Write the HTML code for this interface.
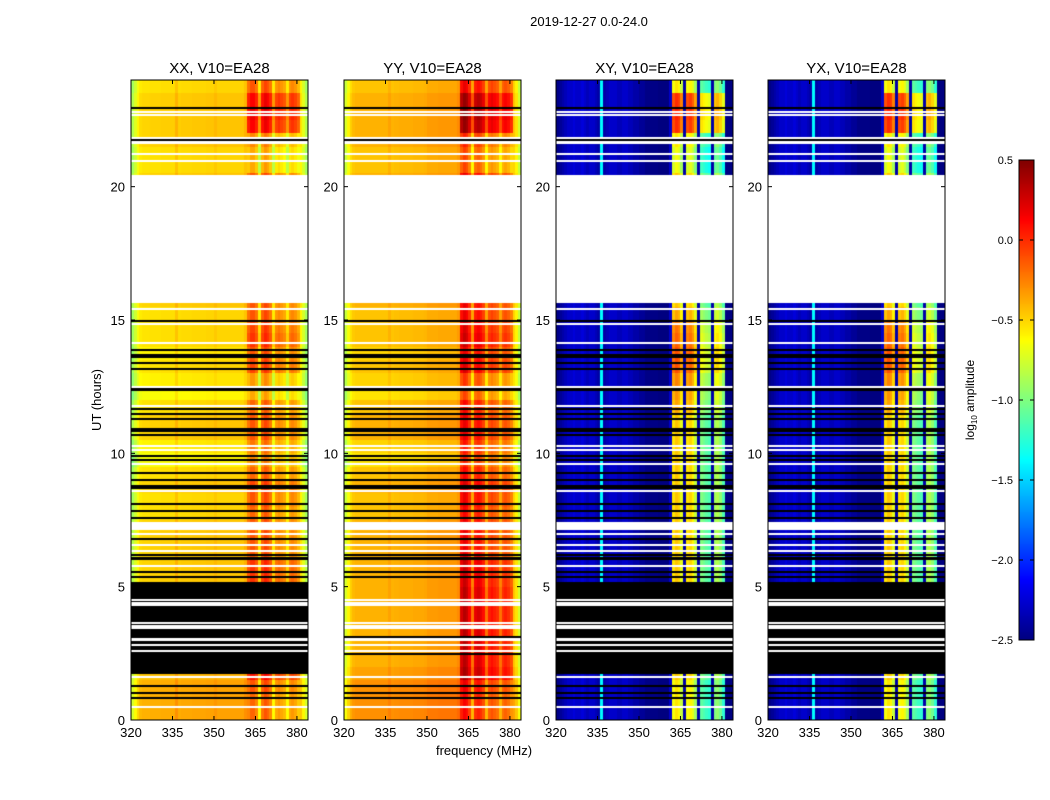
<!DOCTYPE html>
<html><head><meta charset="utf-8">
<style>
body{margin:0;background:#fff;}
#wrap{position:relative;width:1050px;height:800px;overflow:hidden;font-family:"Liberation Sans",sans-serif;}
canvas,svg{position:absolute;left:0;top:0;}
</style></head>
<body>
<div id="wrap">
<canvas id="cv" width="1050" height="800"></canvas>
<svg id="sv" width="1050" height="800"></svg>
</div>
<script>
// ---------- data ----------
const panelTitles = ["XX, V10=EA28","YY, V10=EA28","XY, V10=EA28","YX, V10=EA28"];
const xTickLabels = [320,335,350,365,380];
const yTickLabels = [0,5,10,15,20];
const cbarTicks = [0.5,0.0,-0.5,-1.0,-1.5,-2.0,-2.5];
// frequency profile (log10 amplitude) per 1 MHz channel, 320..384 MHz
const profileXX = [-0.85,-0.72,-0.6,-0.52,-0.5,-0.5,-0.5,-0.49,-0.49,-0.49,-0.49,-0.48,-0.48,-0.48,-0.48,-0.48,-0.4,-0.48,-0.47,-0.47,-0.47,-0.47,-0.46,-0.46,-0.46,-0.46,-0.46,-0.45,-0.45,-0.45,-0.42,-0.45,-0.45,-0.45,-0.45,-0.45,-0.45,-0.45,-0.45,-0.45,-0.45,-0.4,-0.1,0.0,0.0,-0.1,-0.45,-0.05,0.05,0.0,-0.1,-0.45,-0.2,-0.15,-0.2,-0.25,-0.45,-0.2,-0.15,-0.2,-0.3,-0.55,-0.7,-0.85];
const profileYY = [-0.75,-0.6,-0.48,-0.42,-0.4,-0.4,-0.4,-0.4,-0.4,-0.4,-0.4,-0.4,-0.4,-0.4,-0.4,-0.4,-0.35,-0.4,-0.39,-0.39,-0.38,-0.38,-0.38,-0.38,-0.38,-0.37,-0.37,-0.37,-0.37,-0.36,-0.33,-0.33,-0.33,-0.33,-0.32,-0.32,-0.32,-0.32,-0.32,-0.32,-0.32,-0.28,0.15,0.25,0.2,0.05,-0.3,0.1,0.15,0.1,0.0,-0.3,-0.05,0.0,-0.05,-0.1,-0.3,-0.1,-0.05,-0.1,-0.2,-0.45,-0.55,-0.75];
const profileXY = [-2.4,-2.35,-2.3,-2.25,-2.2,-2.2,-2.15,-2.2,-2.2,-2.15,-2.2,-2.25,-2.2,-2.2,-2.25,-2.3,-1.3,-2.3,-2.25,-2.2,-2.2,-2.2,-2.25,-2.25,-2.2,-2.2,-2.25,-2.25,-2.3,-2.3,-2.35,-2.35,-2.4,-2.4,-2.4,-2.4,-2.4,-2.42,-2.42,-2.42,-2.42,-2.2,-0.55,-0.45,-0.5,-0.7,-2.3,-0.55,-0.5,-0.6,-0.8,-2.3,-1.0,-1.05,-1.1,-1.15,-2.3,-0.9,-0.85,-0.95,-1.15,-2.4,-2.45,-2.45];
const profileYX = [-2.4,-2.35,-2.3,-2.25,-2.2,-2.2,-2.15,-2.2,-2.2,-2.15,-2.2,-2.25,-2.2,-2.2,-2.25,-2.3,-1.3,-2.3,-2.25,-2.2,-2.2,-2.2,-2.25,-2.25,-2.2,-2.2,-2.25,-2.25,-2.3,-2.3,-2.35,-2.35,-2.4,-2.4,-2.4,-2.4,-2.4,-2.42,-2.42,-2.42,-2.42,-2.2,-0.55,-0.45,-0.5,-0.7,-2.3,-0.55,-0.5,-0.6,-0.8,-2.3,-1.0,-1.05,-1.1,-1.15,-2.3,-0.9,-0.85,-0.95,-1.15,-2.4,-2.45,-2.45];
// per-panel offsets (XX, YY, XY, YX)
const bandOffset = [-0.12,-0.06,0,0];
const baseOffset = [0,0,-0.08,-0.08];
// time modifiers per 0.5 h row (0..24 h)
const autoBase = [0.1,0.1,0.1,0.05,0,0,0,0,0,0,0,0,0,0,0,-0.05,-0.05,0,-0.05,-0.15,-0.1,0,0,-0.05,-0.15,-0.1,-0.05,-0.1,-0.05,-0.05,-0.05,0,0,0,0,0,0,0,0,0,0,-0.05,-0.05,0,0,0,0,-0.05];
const autoBand = [-0.15,-0.15,-0.1,0.15,0.15,0.15,0.15,0.15,0.15,0.15,0.1,0.1,0,0,0,0,0.05,0.05,0,0,0,0,0,0,-0.1,-0.1,0.1,0.1,0.15,0.1,0.05,0,0,0,0,0,0,0,0,0,0,-0.2,-0.2,-0.15,0.25,0.3,0.25,0.05];
const crossBand = [-0.1,-0.1,-0.1,0,0,0,0,0,0,0,0,0,0,0,0,0,0,0,0,0,0,0,0,0.1,0.15,0.2,0.35,0.35,0.3,0.25,0.1,0,0,0,0,0,0,0,0,0,0,-0.2,-0.2,-0.1,0.45,0.5,0.45,-0.1];
// flagged (white) intervals in hours, shared by all panels
const whiteRows = [[15.62,20.42],[22.78,22.84],[22.65,22.71],[21.82,21.88],[21.6,21.7],[21.22,21.28],[20.94,21.0],[15.39,15.45],[14.83,14.89],[14.12,14.18],[12.48,12.54],[11.77,11.83],[10.24,10.3],[10.12,10.18],[9.56,9.62],[8.56,8.62],[7.12,7.43],[6.94,7.0],[6.55,6.61],[6.3,6.37],[5.77,5.83],[4.49,4.55],[4.35,4.41],[4.3,4.34],[3.62,3.68],[3.5,3.56],[3.44,3.48],[2.97,3.07],[2.78,2.84],[2.57,2.63],[1.59,1.65],[0.47,0.53]];
const blackLines = [22.95,21.76,14.96,13.88,13.7,13.61,13.4,13.17,12.4,12.37,12.43,11.67,11.49,11.3,10.92,10.84,10.67,9.9,9.74,9.26,9.01,8.76,8.7,8.09,7.84,7.58,6.8,6.2,6.09,6.02,5.55,5.37,1.27,1.02,0.84];
const blackBlock = [1.72,5.18];
const yyExtraBlack = [3.12,2.46];

// ---------- layout ----------
const panelX = [131,344,556,768], PW = 177, PY0 = 80, PY1 = 720;
const FMIN = 320, FMAX = 384, TMIN = 0, TMAX = 24;
const VMIN = -2.5, VMAX = 0.5;
function xs(p,f){return panelX[p] + (f-FMIN)/(FMAX-FMIN)*PW;}
function ys(t){return PY1 - (t-TMIN)/(TMAX-TMIN)*(PY1-PY0);}
function jet(v){
  let x=(v-VMIN)/(VMAX-VMIN); x=Math.max(0,Math.min(1,x));
  function c(a){return Math.max(0,Math.min(1,a));}
  const r=c(1.5-Math.abs(4*x-3)), g=c(1.5-Math.abs(4*x-2)), b=c(1.5-Math.abs(4*x-1));
  return `rgb(${Math.round(r*255)},${Math.round(g*255)},${Math.round(b*255)})`;
}
const cv=document.getElementById('cv'), ctx=cv.getContext('2d');
const profiles=[profileXX,profileYY,profileXY,profileYX];
const nRows = autoBase.length;
for(let p=0;p<4;p++){
  const prof=profiles[p];
  for(let r=0;r<nRows;r++){
    const t0=r*(TMAX/nRows), t1=(r+1)*(TMAX/nRows);
    for(let c=0;c<prof.length;c++){
      const f0=FMIN+c*(FMAX-FMIN)/prof.length, f1=FMIN+(c+1)*(FMAX-FMIN)/prof.length;
      const inBand = f0>=362 && f0<381 && prof[c]>-1.5 || (p<2 && f0>=362 && f0<381);
      let v=prof[c] + (inBand?bandOffset[p]:baseOffset[p]);
      if(p<2){ v += autoBase[r] + (inBand?autoBand[r]:0); }
      else { v += (inBand?crossBand[r]:0); }
      ctx.fillStyle=jet(v);
      const xa=Math.round(xs(p,f0)), xb=Math.round(xs(p,f1)), ya=Math.round(ys(t1)), yb=Math.round(ys(t0));
      ctx.fillRect(xa,ya,xb-xa,yb-ya);
    }
  }
  ctx.fillStyle='#000';
  if(p!==1){ const a=Math.round(ys(blackBlock[1])), b=Math.round(ys(blackBlock[0])); ctx.fillRect(panelX[p],a,PW,b-a); }
  const bl = p===1 ? blackLines.concat(yyExtraBlack) : blackLines;
  bl.forEach(t=>{ctx.fillRect(panelX[p],Math.round(ys(t))-1,PW,2);});
  ctx.fillStyle='#fff';
  whiteRows.forEach(w=>{const ya=Math.round(ys(w[1])), yb=Math.round(ys(w[0])); ctx.fillRect(panelX[p],ya,PW,Math.max(2,yb-ya));});
}
// colorbar
const CBX=1019, CBW=15, CBY0=160, CBY1=640;
for(let y=CBY0;y<CBY1;y++){
  const v=VMAX-(y-CBY0+0.5)/(CBY1-CBY0)*(VMAX-VMIN);
  ctx.fillStyle=jet(v); ctx.fillRect(CBX,y,CBW,1);
}
// ---------- SVG overlay ----------
const NS='http://www.w3.org/2000/svg', sv=document.getElementById('sv');
function el(tag,attrs,txt){const e=document.createElementNS(NS,tag);for(const k in attrs)e.setAttribute(k,attrs[k]);if(txt!==undefined)e.textContent=txt;sv.appendChild(e);return e;}
let e;
e=el('text',{x:589,y:26,'font-size':13,'text-anchor':'middle',fill:'#000'},'2019-12-27 0.0-24.0');


for(let p=0;p<4;p++){
  const x0=panelX[p];
  e=el('rect',{x:x0,y:PY0,width:PW,height:PY1-PY0,fill:'none',stroke:'#000','stroke-width':1});
  
  
  e=el('text',{x:x0+PW/2,y:73,'font-size':15,'text-anchor':'middle',fill:'#000'},panelTitles[p]);
  
  
  xTickLabels.forEach(f=>{
    const x=xs(p,f);
    el('line',{x1:x,x2:x,y1:PY1,y2:PY1-4,stroke:'#000'});
    el('line',{x1:x,x2:x,y1:PY0,y2:PY0+4,stroke:'#000'});
    e=el('text',{x:x,y:737,'font-size':13,'text-anchor':'middle',fill:'#000'},String(f));
    
    
  });
  yTickLabels.forEach(t=>{
    const y=ys(t);
    el('line',{x1:x0,x2:x0+4,y1:y,y2:y,stroke:'#000'});
    el('line',{x1:x0+PW,x2:x0+PW-4,y1:y,y2:y,stroke:'#000'});
    e=el('text',{x:x0-6,y:y+5,'font-size':13,'text-anchor':'end',fill:'#000'},String(t));
    
    
  });
}
e=el('text',{x:0,y:0,'font-size':13,'text-anchor':'middle',fill:'#000',transform:'translate(101,400) rotate(-90)'},'UT (hours)');


e=el('text',{x:484,y:755,'font-size':13,'text-anchor':'middle',fill:'#000'},'frequency (MHz)');


e=el('rect',{x:CBX,y:CBY0,width:CBW,height:CBY1-CBY0,fill:'none',stroke:'#000'});


cbarTicks.forEach(v=>{
  const y=CBY0+(VMAX-v)/(VMAX-VMIN)*(CBY1-CBY0);
  el('line',{x1:CBX,x2:CBX+4,y1:y,y2:y,stroke:'#000'});
  el('line',{x1:CBX+CBW,x2:CBX+CBW-4,y1:y,y2:y,stroke:'#000'});
  e=el('text',{x:CBX-6,y:y+4,'font-size':11,'text-anchor':'end',fill:'#000'},(v<0?'\u2212':'')+Math.abs(v).toFixed(1));
  
  
});
e=el('text',{x:0,y:0,'font-size':12,'text-anchor':'middle',fill:'#000',transform:'translate(974,400) rotate(-90)'});


e.innerHTML='log<tspan font-size="8" dy="3">10</tspan><tspan dy="-3"> amplitude</tspan>';
</script>
</body></html>
